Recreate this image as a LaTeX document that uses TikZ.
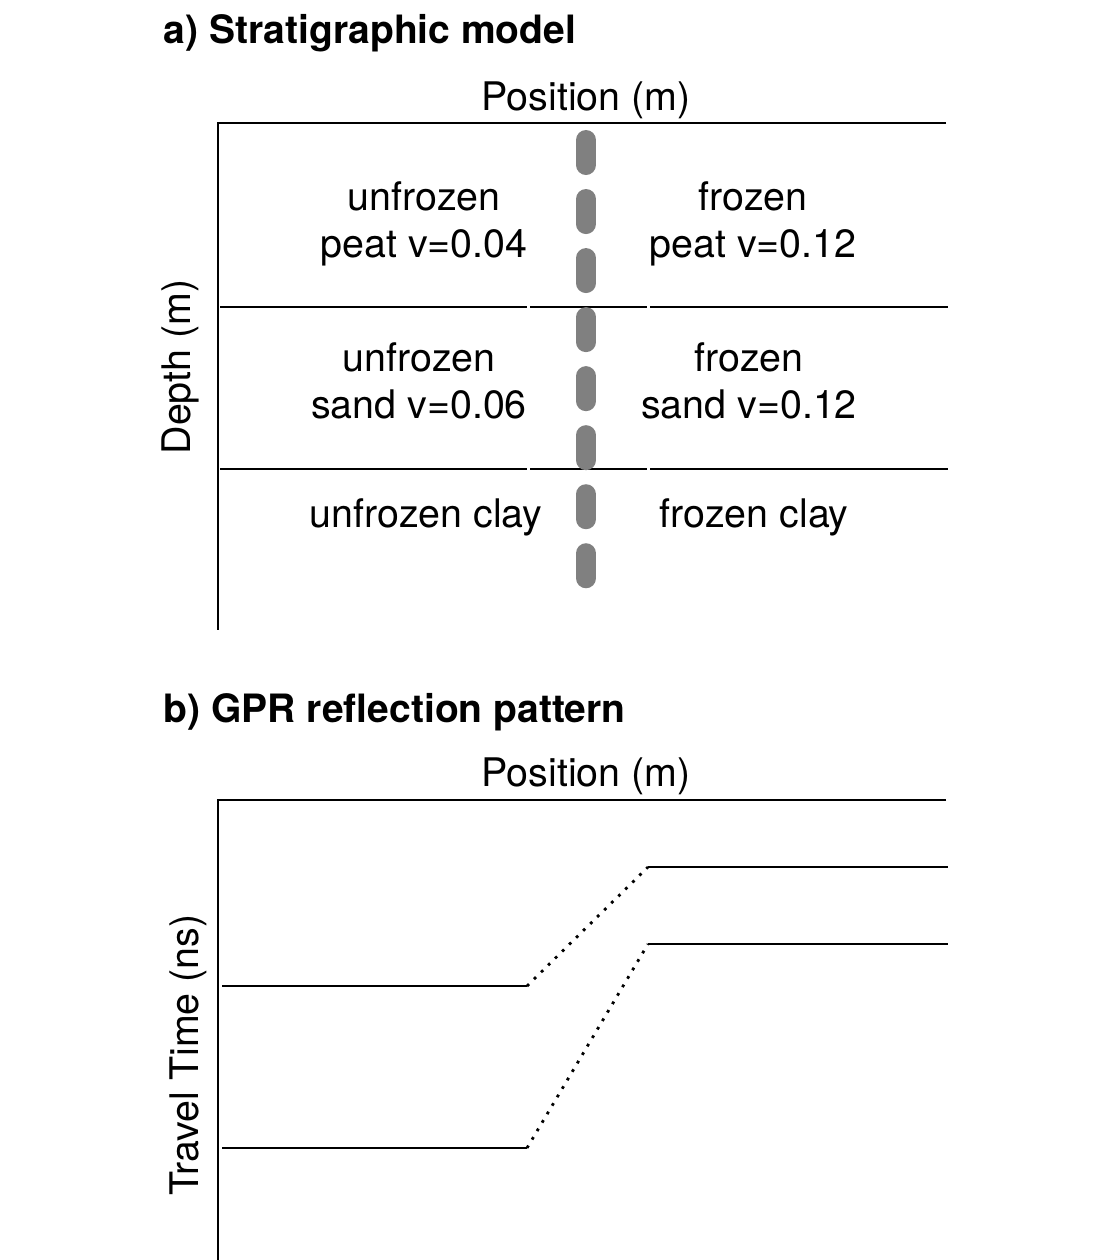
\documentclass[tikz,border=0pt]{standalone}
\usepackage{fontspec}
\setmainfont{TeX Gyre Heros}
\usepackage{tikz}
\usetikzlibrary{positioning}

\begin{document}
\begin{tikzpicture}[x=0.01cm,y=-0.01cm]
	\tikzstyle{every node}+=[inner sep=0pt, font=\fontsize{11.2}{13}\selectfont]
	\tikzstyle{title}=[anchor=west, font=\fontsize{11.1}{13}\selectfont\bfseries]
	\tikzstyle{layer}=[align=center, font=\fontsize{11.2}{13.4}\selectfont]
	\tikzstyle{axis}=[black, line width=0.8pt]
	\tikzstyle{horizon}=[black, line width=0.8pt]
	\tikzstyle{slope}=[black, line width=0.8pt, dotted]
	\useasboundingbox (0,0) rectangle (1100,1260);
	% a) stratigraphic model
	\node [title] (ta) at (163,33) {a) Stratigraphic model};
	\node (pa) at (586,100) {Position (m)};
	\node [rotate=90] (da) at (180,367) {Depth (m)};
	\coordinate (a0) at (218,123);
	\coordinate (a1) at (946,123);
	\coordinate (a2) at (218,630);
	\draw [axis] (a1) -- (a0) -- (a2);
	\foreach \y in {307,469} {
		\draw [horizon] (220,\y) -- (527,\y);
		\draw [horizon] (530,\y) -- (647,\y);
		\draw [horizon] (650,\y) -- (948,\y);
	}
	\coordinate (f0) at (586,140);
	\coordinate (f1) at (586,582);
	\draw [gray, line width=0.2cm, line cap=round, dash pattern=on 0.25cm off 0.34cm] (f0) -- (f1);
	\node [layer] (up) at (424,224) {unfrozen\\peat v=0.04};
	\node [layer] (fp) at (753,224) {frozen\\peat v=0.12};
	\node [layer] (us) at (419,381) {unfrozen\\sand v=0.06};
	\node [layer] (fs) at (749,381) {frozen\\sand v=0.12};
	\node (uc) at (426,517) {unfrozen clay};
	\node (fc) at (754,517) {frozen clay};
	% b) GPR reflection pattern
	\node [title] (tb) at (163,712) {b) GPR reflection pattern};
	\node (pb) at (586,776) {Position (m)};
	\node [rotate=90] (tt) at (188,1055) {Travel Time (ns)};
	\coordinate (b0) at (218,800);
	\coordinate (b1) at (946,800);
	\coordinate (b2) at (218,1262);
	\draw [axis] (b1) -- (b0) -- (b2);
	\coordinate (r1a) at (222,986);
	\coordinate (r1b) at (527,986);
	\coordinate (r1c) at (648,867);
	\coordinate (r1d) at (948,867);
	\coordinate (r2a) at (222,1148);
	\coordinate (r2b) at (527,1148);
	\coordinate (r2c) at (648,944);
	\coordinate (r2d) at (948,944);
	\draw [horizon] (r1a) -- (r1b);
	\draw [slope] (r1b) -- (r1c);
	\draw [horizon] (r1c) -- (r1d);
	\draw [horizon] (r2a) -- (r2b);
	\draw [slope] (r2b) -- (r2c);
	\draw [horizon] (r2c) -- (r2d);
\end{tikzpicture}
\end{document}
